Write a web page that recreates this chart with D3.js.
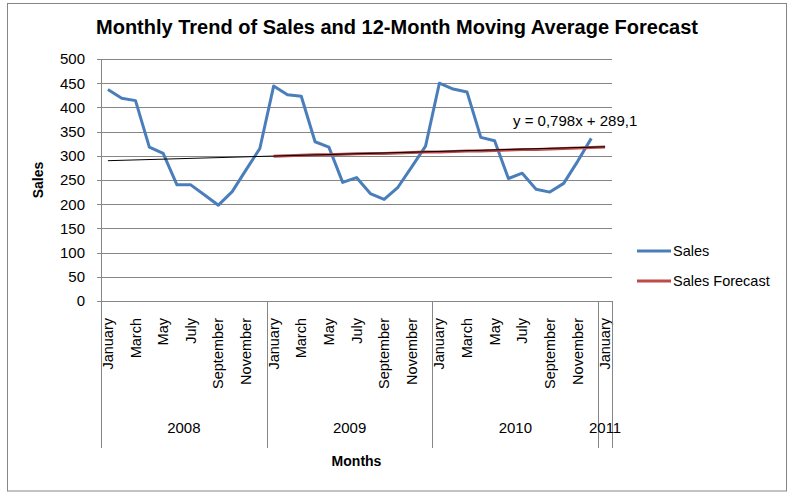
<!DOCTYPE html>
<html>
<head>
<meta charset="utf-8">
<script src="https://cdn.jsdelivr.net/npm/d3@7"></script>
<style>
  body { margin: 0; background: #fff; }
  text { font-family: "Liberation Sans", Arial, sans-serif; fill: #000; }
</style>
</head>
<body>
<div id="chart"></div>
<script>
// Data
const years = [2008, 2009, 2010, 2011];
const monthNames = ['January', 'February', 'March', 'April', 'May', 'June', 'July',
  'August', 'September', 'October', 'November', 'December'];
const monthsPerYear = [12, 12, 12, 1];

const sales = [437, 419, 414, 318, 305, 240, 240, 219, 198, 226, 271, 315,
  444, 426, 423, 329, 318, 245, 255, 222, 210, 235, 277, 320,
  450, 438, 432, 338, 331, 253, 264, 231, 225, 243, 288, 336];

// forecast starts at January 2009 (category 12)
const forecastStart = 12;
const forecast = [299, 300, 301, 302, 302, 303, 304, 305, 305, 306, 307, 308,
  308, 309, 310, 310, 311, 312, 313, 313, 314, 315, 316, 317, 318];

const trendSlope = 0.798, trendIntercept = 289.1;
const yTicks = [0, 50, 100, 150, 200, 250, 300, 350, 400, 450, 500];

// Build categories
const categories = [];
years.forEach((yr, yi) => {
  for (let m = 0; m < monthsPerYear[yi]; m++) categories.push({ year: yr, month: monthNames[m], m });
});

const W = 795, H = 498;
const svg = d3.select('#chart').append('svg')
  .attr('width', W).attr('height', H);

// Outer chart border
svg.append('rect')
  .attr('x', 7.5).attr('y', 3.5)
  .attr('width', 779).attr('height', 487.5)
  .attr('fill', '#fff').attr('stroke', '#868686');

const plotLeft = 101, plotRight = 612, plotTop = 59, plotBottom = 301;

const x = d3.scaleBand()
  .domain(d3.range(categories.length))
  .range([plotLeft, plotRight])
  .padding(0);
const cx = i => x(i) + x.bandwidth() / 2;

const y = d3.scaleLinear().domain([0, 500]).range([plotBottom, plotTop]);

// Title
svg.append('text')
  .attr('x', 397).attr('y', 34)
  .attr('text-anchor', 'middle')
  .style('font-size', '20px').style('font-weight', 'bold')
  .text('Monthly Trend of Sales and 12-Month Moving Average Forecast');

// Gridlines
svg.append('g')
  .attr('transform', `translate(${plotLeft},0)`)
  .call(d3.axisLeft(y).tickValues(yTicks).tickSize(-(plotRight - plotLeft)).tickFormat(''))
  .call(g => g.select('.domain').remove())
  .call(g => g.selectAll('line').attr('stroke', '#868686').attr('shape-rendering', 'crispEdges'));

// Y axis
svg.append('g')
  .attr('transform', `translate(${plotLeft},0)`)
  .call(d3.axisLeft(y).tickValues(yTicks).tickSize(4).tickPadding(12))
  .call(g => g.select('.domain').attr('stroke', '#868686').attr('shape-rendering', 'crispEdges'))
  .call(g => g.selectAll('line').attr('stroke', '#868686').attr('shape-rendering', 'crispEdges'))
  .call(g => g.selectAll('text').style('font-size', '15px').attr('font-family', null));

svg.append('text')
  .attr('transform', 'translate(43,180) rotate(-90)')
  .attr('text-anchor', 'middle')
  .style('font-size', '14px').style('font-weight', 'bold')
  .text('Sales');

// X axis: month labels (every other month)
const xAxis = svg.append('g')
  .attr('transform', `translate(0,${plotBottom})`)
  .call(d3.axisBottom(x).tickSize(0)
    .tickFormat(i => categories[i].m % 2 === 0 ? categories[i].month : ''));
xAxis.select('.domain').attr('stroke', '#868686').attr('shape-rendering', 'crispEdges');
xAxis.selectAll('text')
  .attr('font-family', null)
  .style('font-size', '14.5px')
  .attr('transform', 'rotate(-90)')
  .attr('x', -17).attr('y', 0).attr('dy', '0.35em')
  .attr('text-anchor', 'end');

// Group dividers and year labels
const groupEdges = [0];
monthsPerYear.forEach((n, i) => groupEdges.push(groupEdges[i] + n));
const edgeX = k => (k < categories.length ? x(k) : plotRight);
svg.append('g').selectAll('line')
  .data(groupEdges)
  .join('line')
  .attr('x1', d => Math.round(edgeX(d)) + 0.5).attr('x2', d => Math.round(edgeX(d)) + 0.5)
  .attr('y1', plotBottom).attr('y2', 448)
  .attr('stroke', '#868686');

svg.append('g').selectAll('text')
  .data(years)
  .join('text')
  .attr('x', (d, i) => (edgeX(groupEdges[i]) + edgeX(groupEdges[i + 1])) / 2)
  .attr('y', 433)
  .attr('text-anchor', 'middle')
  .style('font-size', '15px')
  .text(d => d);

svg.append('text')
  .attr('x', (plotLeft + plotRight) / 2).attr('y', 466)
  .attr('text-anchor', 'middle')
  .style('font-size', '14px').style('font-weight', 'bold')
  .text('Months');

// Lines
const line = d3.line().x(d => cx(d[0])).y(d => y(d[1]));

svg.append('path')
  .datum(sales.map((v, i) => [i, v]))
  .attr('d', line)
  .attr('fill', 'none').attr('stroke', '#4A7EBB').attr('stroke-width', 3)
  .attr('stroke-linejoin', 'round');

svg.append('path')
  .datum(forecast.map((v, i) => [forecastStart + i, v]))
  .attr('d', line)
  .attr('fill', 'none').attr('stroke', '#BE4B48').attr('stroke-width', 3)
  .attr('stroke-linejoin', 'round');

// Linear trendline (x = 1..37)
const n = categories.length;
svg.append('path')
  .datum([[0, trendSlope * 1 + trendIntercept], [n - 1, trendSlope * n + trendIntercept]])
  .attr('d', line)
  .attr('fill', 'none').attr('stroke', '#000').attr('stroke-width', 1);

svg.append('text')
  .attr('x', 513).attr('y', 126)
  .style('font-size', '15px')
  .text('y = 0,798x + 289,1');

// Legend
const legend = [
  { name: 'Sales', color: '#4A7EBB', yPos: 251 },
  { name: 'Sales Forecast', color: '#BE4B48', yPos: 281 }
];
const lg = svg.append('g').selectAll('g').data(legend).join('g');
lg.append('line')
  .attr('x1', 637).attr('x2', 671)
  .attr('y1', d => d.yPos).attr('y2', d => d.yPos)
  .attr('stroke', d => d.color).attr('stroke-width', 3);
lg.append('text')
  .attr('x', 673).attr('y', d => d.yPos).attr('dy', '0.35em')
  .style('font-size', '14.5px')
  .text(d => d.name);
</script>
</body>
</html>
